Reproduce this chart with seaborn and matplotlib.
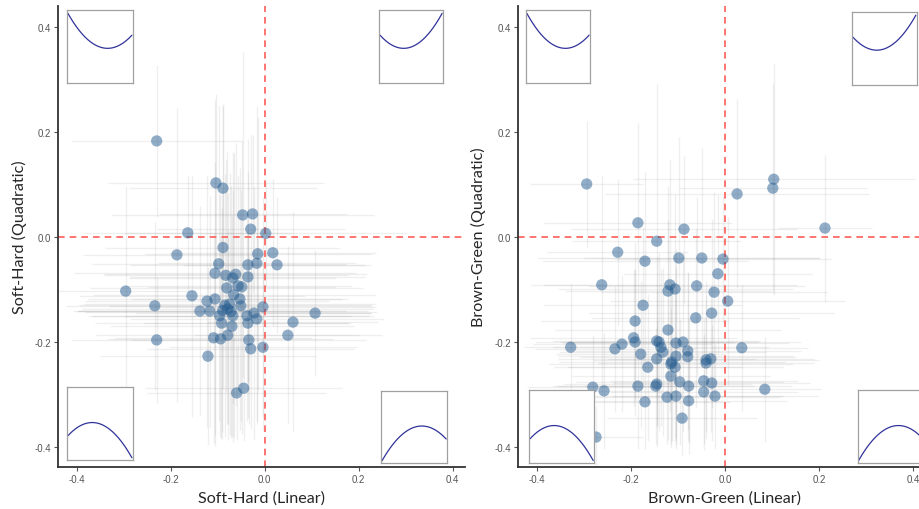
"""
Linear vs quadratic slopes for two material dimensions, with error bars
and small corner sketches of the curve shape in each quadrant.
"""

import matplotlib.pyplot as plt
import numpy as np
import pandas as pd
import seaborn as sns

# Soft-Hard panel: linear slope, quadratic slope, and their errors
soft_lin = [-0.230, -0.104, -0.089, -0.047, -0.026, -0.030, 0.002, -0.164, -0.089, -0.187,
            -0.015, 0.017, -0.098, -0.036, -0.017, 0.026, -0.106, -0.083, -0.062, -0.068,
            -0.036, -0.296, -0.081, -0.057, -0.049, -0.155, -0.066, -0.053, -0.106, -0.123,
            -0.234, -0.079, -0.085, -0.072, -0.090, -0.075, -0.138, -0.117, -0.096, -0.068,
            -0.051, -0.004, -0.038, -0.023, -0.017, -0.036, 0.107, 0.060, 0.049, -0.092,
            -0.070, -0.079, -0.109, -0.094, -0.230, -0.034, -0.030, -0.004, -0.121, -0.045,
            -0.060]
soft_quad = [0.183, 0.103, 0.093, 0.042, 0.044, 0.015, 0.007, 0.008, -0.020, -0.034,
             -0.032, -0.030, -0.051, -0.053, -0.050, -0.053, -0.069, -0.073, -0.071, -0.078,
             -0.076, -0.103, -0.097, -0.093, -0.095, -0.112, -0.110, -0.118, -0.118, -0.122,
             -0.131, -0.137, -0.130, -0.142, -0.140, -0.128, -0.141, -0.141, -0.150, -0.150,
             -0.131, -0.133, -0.150, -0.145, -0.156, -0.164, -0.145, -0.162, -0.187, -0.164,
             -0.170, -0.187, -0.192, -0.194, -0.196, -0.196, -0.213, -0.210, -0.227, -0.288,
             -0.297]
soft_lin_err = [0.18, 0.23, 0.20, 0.28, 0.20, 0.20, 0.30, 0.22, 0.25, 0.20,
                0.24, 0.22, 0.27, 0.25, 0.21, 0.20, 0.30, 0.26, 0.28, 0.22,
                0.25, 0.15, 0.29, 0.24, 0.20, 0.24, 0.30, 0.23, 0.27, 0.26,
                0.19, 0.31, 0.31, 0.31, 0.31, 0.31, 0.26, 0.29, 0.28, 0.30,
                0.28, 0.24, 0.26, 0.25, 0.27, 0.22, 0.12, 0.18, 0.20, 0.27,
                0.26, 0.28, 0.21, 0.24, 0.18, 0.25, 0.22, 0.20, 0.23, 0.21,
                0.19]
soft_quad_err = [0.145, 0.17, 0.16, 0.31, 0.15, 0.18, 0.10, 0.11, 0.27, 0.28,
                 0.26, 0.14, 0.30, 0.24, 0.30, 0.13, 0.33, 0.22, 0.25, 0.24,
                 0.20, 0.20, 0.26, 0.21, 0.28, 0.23, 0.27, 0.25, 0.26, 0.24,
                 0.16, 0.22, 0.25, 0.24, 0.23, 0.25, 0.20, 0.22, 0.23, 0.24,
                 0.22, 0.21, 0.20, 0.24, 0.20, 0.18, 0.12, 0.21, 0.17, 0.22,
                 0.21, 0.20, 0.20, 0.19, 0.12, 0.16, 0.15, 0.16, 0.17, 0.10,
                 0.09]

# Brown-Green panel
brown_lin = [-0.294, 0.104, 0.102, 0.026, 0.213, -0.185, -0.087, -0.145, -0.228, -0.170,
             -0.098, -0.049, -0.004, -0.015, -0.262, -0.117, -0.106, -0.121, -0.060, -0.023,
             0.006, -0.174, -0.028, -0.062, -0.191, -0.121, -0.194, -0.191, -0.328, -0.219,
             -0.234, -0.145, -0.140, -0.136, -0.104, -0.089, 0.036, -0.179, -0.132, -0.079,
             -0.079, -0.104, -0.113, -0.115, -0.106, -0.145, -0.164, -0.040, -0.030, -0.040,
             -0.115, -0.096, -0.145, -0.147, -0.185, -0.077, -0.045, -0.028, 0.085, -0.281,
             -0.257, -0.045, -0.021, -0.123, -0.104, -0.077, -0.170, -0.091, -0.274]
brown_quad = [0.101, 0.110, 0.093, 0.082, 0.017, 0.027, 0.015, -0.008, -0.029, -0.046,
              -0.040, -0.040, -0.042, -0.070, -0.091, -0.091, -0.099, -0.103, -0.093, -0.105,
              -0.122, -0.130, -0.145, -0.154, -0.160, -0.177, -0.192, -0.200, -0.210, -0.204,
              -0.213, -0.198, -0.200, -0.210, -0.202, -0.200, -0.211, -0.223, -0.219, -0.217,
              -0.228, -0.227, -0.238, -0.242, -0.248, -0.232, -0.248, -0.234, -0.232, -0.240,
              -0.265, -0.276, -0.280, -0.284, -0.284, -0.284, -0.274, -0.278, -0.290, -0.286,
              -0.293, -0.295, -0.303, -0.305, -0.303, -0.312, -0.314, -0.345, -0.381]
brown_lin_err = [0.12, 0.30, 0.20, 0.28, 0.10, 0.20, 0.24, 0.18, 0.15, 0.22,
                 0.30, 0.25, 0.23, 0.20, 0.15, 0.27, 0.25, 0.22, 0.23, 0.24,
                 0.25, 0.21, 0.26, 0.22, 0.20, 0.24, 0.22, 0.21, 0.10, 0.19,
                 0.17, 0.22, 0.21, 0.23, 0.24, 0.25, 0.14, 0.18, 0.22, 0.24,
                 0.23, 0.25, 0.24, 0.26, 0.23, 0.21, 0.20, 0.24, 0.22, 0.23,
                 0.21, 0.22, 0.20, 0.21, 0.18, 0.22, 0.20, 0.21, 0.12, 0.14,
                 0.15, 0.20, 0.22, 0.24, 0.23, 0.21, 0.18, 0.16, 0.10]
brown_quad_err = [0.12, 0.22, 0.20, 0.18, 0.14, 0.19, 0.14, 0.30, 0.14, 0.17,
                  0.23, 0.21, 0.12, 0.15, 0.21, 0.24, 0.18, 0.20, 0.17, 0.19,
                  0.16, 0.15, 0.18, 0.17, 0.15, 0.21, 0.13, 0.14, 0.12, 0.13,
                  0.12, 0.16, 0.17, 0.15, 0.18, 0.17, 0.12, 0.14, 0.16, 0.15,
                  0.16, 0.17, 0.15, 0.16, 0.14, 0.13, 0.14, 0.15, 0.14, 0.13,
                  0.13, 0.12, 0.12, 0.11, 0.12, 0.13, 0.12, 0.11, 0.10, 0.10,
                  0.11, 0.11, 0.10, 0.09, 0.10, 0.08, 0.09, 0.07, 0.06]

# corner sketches: TL, TR, BL, BR -> quadratic sign and linear coefficient
sketch_quad = [1, 1, -1, -1]
sketch_lin = [-0.48, 0.48, -0.48, 0.48]

ticks = [-0.4, -0.2, 0.0, 0.2, 0.4]
tick_labels = ["-0.4", "-0.2", "0.0", "0.2", "0.4"]

POINT_COLOR = "#245c90"
REF_COLOR = "#ff5e57"
CURVE_COLOR = "#30339a"
LABEL_FONT = ["Lato", "DejaVu Sans"]


def draw_panel(ax, lin, quad, lin_err, quad_err, name, insets, ylab_x):
    df = pd.DataFrame({"lin": lin, "quad": quad, "lin_err": lin_err, "quad_err": quad_err})

    ax.errorbar(df["lin"], df["quad"], xerr=df["lin_err"], yerr=df["quad_err"],
                fmt="none", ecolor="#808080", elinewidth=1.0, alpha=0.12, zorder=1)
    ax.axhline(0, color=REF_COLOR, lw=1.2, ls=(0, (4, 3)), zorder=2)
    ax.axvline(0, color=REF_COLOR, lw=1.2, ls=(0, (4, 3)), zorder=2)
    sns.scatterplot(data=df, x="lin", y="quad", ax=ax, color=POINT_COLOR,
                    alpha=0.5, s=66, edgecolor="none", zorder=3)

    ax.set_ylim(-0.438, 0.44)
    ax.set_xticks(ticks, tick_labels)
    ax.set_yticks(ticks, tick_labels)
    ax.tick_params(labelsize=7, colors="#555555", length=3, width=0.8, pad=2)
    for side in ("left", "bottom"):
        ax.spines[side].set_color("#333333")
        ax.spines[side].set_linewidth(1.3)
    sns.despine(ax=ax)

    ax.set_xlabel(f"{name} (Linear)", fontsize=11.6, family=LABEL_FONT)
    ax.set_ylabel(f"{name} (Quadratic)", fontsize=11.6, family=LABEL_FONT)
    ax.xaxis.set_label_coords(0.5, -0.05)
    ax.yaxis.set_label_coords(ylab_x, 0.5)

    t = np.linspace(-1, 1, 100)
    for box, q, b in zip(insets, sketch_quad, sketch_lin):
        iax = ax.inset_axes(box, zorder=5)
        iax.set_facecolor("white")
        iax.plot(t, q * t ** 2 + b * t, color=CURVE_COLOR, lw=0.9)
        iax.set_xlim(-1.03, 1.03)
        iax.set_ylim(-1.58, 1.62)
        iax.set_xticks([])
        iax.set_yticks([])
        for sp in iax.spines.values():
            sp.set_color("#a0a0a0")
            sp.set_linewidth(0.9)


sns.set_theme(style="ticks")
plt.rcParams["font.family"] = ["Liberation Sans", "DejaVu Sans"]

fig = plt.figure(figsize=(9.19, 5.10), dpi=100)
ax1 = fig.add_axes([0.0631, 0.0824, 0.4429, 0.9039])
ax2 = fig.add_axes([0.5637, 0.0824, 0.4501, 0.9039])

draw_panel(ax1, soft_lin, soft_quad, soft_lin_err, soft_quad_err, "Soft-Hard",
           [[0.022, 0.833, 0.162, 0.158], [0.789, 0.833, 0.157, 0.158],
            [0.022, 0.015, 0.162, 0.159], [0.794, 0.009, 0.162, 0.156]], -0.075)
ax1.set_xlim(-0.44, 0.426)

draw_panel(ax2, brown_lin, brown_quad, brown_lin_err, brown_quad_err, "Brown-Green",
           [[0.019, 0.833, 0.155, 0.158], [0.807, 0.829, 0.157, 0.158],
            [0.027, 0.009, 0.157, 0.158], [0.821, 0.009, 0.160, 0.158]], -0.078)
ax2.set_xlim(-0.44, 0.44)

fig.savefig("out.png", dpi=100)
